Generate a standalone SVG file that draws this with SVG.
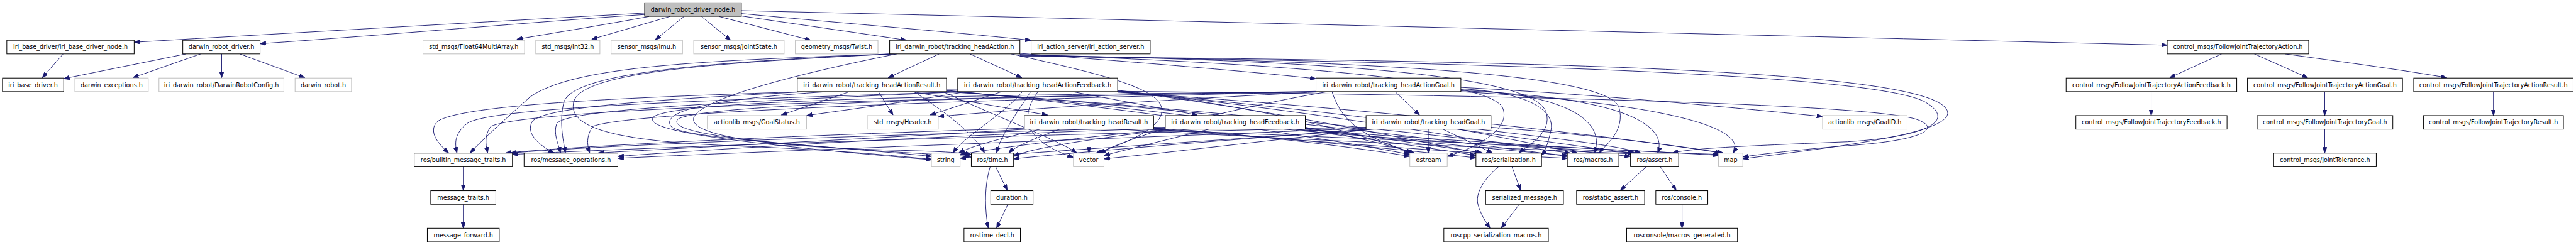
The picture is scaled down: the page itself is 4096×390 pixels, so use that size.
<svg xmlns="http://www.w3.org/2000/svg" width="4096" height="390" viewBox="0 0 4096 390">
<style>
.e path{fill:none;stroke:#191970;stroke-width:1.2;marker-end:url(#a)}
.node rect{fill:#fff;stroke:#000;stroke-width:1.3}
.gr rect{stroke:#bfbfbf}
.rt rect{fill:#bfbfbf;stroke:#000}
.node text{font-family:"DejaVu Sans","Liberation Sans",sans-serif;font-size:12.5px;text-anchor:middle;fill:#000}
</style>
<defs>
<marker id="a" markerUnits="userSpaceOnUse" viewBox="0 0 12 9" markerWidth="12" markerHeight="9" refX="12" refY="4.5" orient="auto"><path d="M0,0L12,4.5L0,9z" fill="#191970" stroke="#191970"/></marker>
</defs>
<rect width="4096" height="390" fill="#fff"/>
<g transform="scale(0.773)">
<g id="connectors" class="e">
<path d="M1326,27 C1000,45 600,68 276,87"/>
<path d="M1326,30 C1100,45 800,72 535,90"/>
<path d="M1335,34 C1250,50 1150,66 1063,81"/>
<path d="M1378,34 L1217,81"/>
<path d="M1407,34 L1348,82"/>
<path d="M1443,34 L1503,83"/>
<path d="M1479,34 L1668,83"/>
<path d="M1525,33 C1640,50 1760,67 1865,83"/>
<path d="M1525,28 C1700,45 1950,65 2121,83"/>
<path d="M1525,22 C2500,45 3500,70 4458,93"/>
<path d="M130,111 L87,160"/>
<path d="M383,111 L131,162"/>
<path d="M413,111 L273,160"/>
<path d="M456,111 L456,160"/>
<path d="M493,111 L627,160"/>
<path d="M1932,111 L1827,160"/>
<path d="M1995,111 L2102,160"/>
<path d="M2098,110 C2300,125 2550,145 2707,162"/>
<path d="M1807,189 L1837,237"/>
<path d="M1747,189 L1607,237"/>
<path d="M1877,189 L2155,237"/>
<path d="M2060,189 L1913,237"/>
<path d="M1985,189 C1900,205 1750,225 1659,238"/>
<path d="M2207,189 L2463,237"/>
<path d="M2720,189 C2400,205 2100,225 1930,240"/>
<path d="M3005,180 C3300,195 3600,225 3749,240"/>
<path d="M2870,189 L2920,237"/>
<path d="M1835,111 C1450,125 1180,135 1090,200 C1040,245 995,285 967,315"/>
<path d="M1838,111 C1450,128 1180,150 1160,210 C1150,250 1158,285 1163,315"/>
<path d="M1840,111 C1450,130 1195,150 1180,210 C1168,262 1260,290 1500,300 C1750,310 1850,322 1916,328"/>
<path d="M1845,111 C1650,150 1450,200 1428,240 C1410,275 1550,300 1800,308 C1900,311 1960,312 1998,318"/>
<path d="M2080,111 C2250,150 2395,180 2390,230 C2385,270 2300,300 2255,315"/>
<path d="M2098,112 C2600,130 3050,160 3090,220 C3110,260 3050,300 2977,322"/>
<path d="M2098,113 C2700,125 3150,150 3180,230 C3195,275 3140,300 3125,315"/>
<path d="M2098,114 C2800,125 3300,150 3330,220 C3345,270 3300,300 3290,315"/>
<path d="M2098,115 C3000,128 3850,150 3960,210 C4020,245 3980,280 3800,292 C3600,300 3480,305 3440,315"/>
<path d="M2098,116 C3100,125 3920,140 4000,220 C4050,270 3800,300 3585,327"/>
<path d="M1650,189 C1300,200 950,215 900,250 C880,270 900,295 923,315"/>
<path d="M1655,189 C1350,205 1120,220 1095,250 C1080,275 1110,300 1140,315"/>
<path d="M1700,189 C1450,205 1360,230 1380,260 C1400,285 1700,300 1916,322"/>
<path d="M1880,189 C1960,240 2010,285 2025,315"/>
<path d="M1940,189 C2050,240 2180,290 2215,315"/>
<path d="M1947,186 C2300,220 2700,280 2900,318"/>
<path d="M1947,187 C2400,225 2850,290 3036,320"/>
<path d="M1947,188 C2500,228 3000,292 3224,322"/>
<path d="M1947,189 C2600,232 3100,298 3354,322"/>
<path d="M1947,185 C2700,190 3800,205 3940,245 C4000,265 3950,290 3800,300 C3700,308 3620,318 3585,323"/>
<path d="M1975,189 C1500,205 1000,220 960,255 C935,275 935,295 940,315"/>
<path d="M1980,189 C1500,210 1160,225 1145,255 C1138,275 1148,295 1153,315"/>
<path d="M2103,189 C2060,240 1990,275 1960,315"/>
<path d="M2120,189 C2090,235 2060,275 2050,315"/>
<path d="M2135,189 C2090,250 2120,295 2208,324"/>
<path d="M2299,186 C2600,220 2800,275 2905,315"/>
<path d="M2299,187 C2650,230 2900,290 3045,315"/>
<path d="M2299,188 C2750,232 3050,295 3230,315"/>
<path d="M2299,189 C2850,236 3200,298 3360,315"/>
<path d="M2299,190 C2900,228 3400,292 3540,315"/>
<path d="M2710,188 C2000,200 1100,220 1010,260 C995,280 1000,300 1003,315"/>
<path d="M2712,189 C2000,205 1300,230 1220,260 C1205,280 1208,300 1213,315"/>
<path d="M2714,189 C2000,195 1400,205 1345,240 C1320,265 1450,290 1916,329"/>
<path d="M2716,189 C2000,200 1450,215 1395,245 C1370,270 1500,295 1998,322"/>
<path d="M2730,189 C2550,220 2350,270 2262,315"/>
<path d="M2740,189 C2760,250 2800,280 2905,315"/>
<path d="M3005,183 C3150,190 3200,230 3190,270 C3184,295 3180,308 3171,320"/>
<path d="M3005,185 C3250,195 3300,260 3280,315"/>
<path d="M3005,187 C3350,200 3430,260 3410,315"/>
<path d="M3005,189 C3400,210 3600,260 3565,315"/>
<path d="M2110,264 C1600,280 1200,300 1040,315"/>
<path d="M2112,266 C1800,285 1400,305 1230,315"/>
<path d="M2140,266 C2060,285 2000,300 1972,315"/>
<path d="M2180,266 C2130,285 2090,300 2075,315"/>
<path d="M2240,266 L2240,315"/>
<path d="M2373,262 C2600,280 2800,305 2900,322"/>
<path d="M2373,264 C2650,285 2900,310 3036,325"/>
<path d="M2373,266 C2700,290 3000,315 3224,326"/>
<path d="M2300,266 C2700,290 3100,305 3360,317"/>
<path d="M2350,266 C2900,290 3300,305 3535,320"/>
<path d="M2400,262 C1900,275 1300,295 1050,315"/>
<path d="M2402,264 C1900,280 1500,305 1271,322"/>
<path d="M2405,266 C2200,285 2050,305 1975,318"/>
<path d="M2410,266 C2250,285 2120,305 2085,322"/>
<path d="M2487,266 L2271,320"/>
<path d="M2685,262 C2780,280 2860,300 2910,315"/>
<path d="M2685,264 C2850,285 2980,305 3050,315"/>
<path d="M2685,266 C2900,290 3100,310 3224,320"/>
<path d="M2640,266 C2900,290 3200,305 3365,315"/>
<path d="M2660,266 C3000,290 3300,310 3537,318"/>
<path d="M2812,262 C2200,275 1400,300 1054,318"/>
<path d="M2814,264 C2300,285 1600,310 1271,326"/>
<path d="M2816,266 C2500,290 2100,315 1975,326"/>
<path d="M2820,266 C2500,290 2200,315 2085,327"/>
<path d="M2825,266 C2600,290 2400,315 2271,327"/>
<path d="M2938,266 L2938,315"/>
<path d="M2968,266 L3070,315"/>
<path d="M3000,266 C3100,285 3200,305 3245,315"/>
<path d="M3040,266 C3200,285 3330,300 3375,315"/>
<path d="M3067,262 C3300,280 3450,300 3545,315"/>
<path d="M953,343 L953,392"/>
<path d="M953,421 L953,470"/>
<path d="M2048,343 L2072,392"/>
<path d="M2037,343 C2025,380 2025,430 2033,470"/>
<path d="M2073,421 L2050,470"/>
<path d="M3110,343 L3128,392"/>
<path d="M3083,343 C3050,370 3035,400 3040,420 C3045,440 3055,455 3065,470"/>
<path d="M3125,421 L3088,470"/>
<path d="M3387,343 L3333,392"/>
<path d="M3415,343 L3448,392"/>
<path d="M3460,421 L3460,470"/>
<path d="M4570,111 L4463,160"/>
<path d="M4637,111 L4747,160"/>
<path d="M4700,111 C4800,125 4950,145 5033,160"/>
<path d="M4425,189 L4425,238"/>
<path d="M4782,189 L4782,238"/>
<path d="M5129,189 L5129,238"/>
<path d="M4782,266 L4782,315"/>
</g>
<g id="n0" class="node rt"><rect x="1326" y="5.7" width="199" height="28"/><text x="1425.5" y="24.2">darwin_robot_driver_node.h</text></g>
<g id="n1" class="node"><rect x="14" y="83" width="262" height="28"/><text x="145" y="101.5">iri_base_driver/iri_base_driver_node.h</text></g>
<g id="n2" class="node"><rect x="5" y="160.7" width="126" height="28"/><text x="68" y="179.2">iri_base_driver.h</text></g>
<g id="n3" class="node"><rect x="376" y="83" width="159" height="28"/><text x="455.5" y="101.5">darwin_robot_driver.h</text></g>
<g id="n4" class="node gr"><rect x="154" y="160.7" width="151" height="28"/><text x="229.5" y="179.2">darwin_exceptions.h</text></g>
<g id="n5" class="node gr"><rect x="327" y="160.7" width="257" height="28"/><text x="455.5" y="179.2">iri_darwin_robot/DarwinRobotConfig.h</text></g>
<g id="n6" class="node gr"><rect x="607" y="160.7" width="116" height="28"/><text x="665" y="179.2">darwin_robot.h</text></g>
<g id="n7" class="node gr"><rect x="870" y="83" width="209" height="28"/><text x="974.5" y="101.5">std_msgs/Float64MultiArray.h</text></g>
<g id="n8" class="node gr"><rect x="1102" y="83" width="132" height="28"/><text x="1168" y="101.5">std_msgs/Int32.h</text></g>
<g id="n9" class="node gr"><rect x="1257" y="83" width="147" height="28"/><text x="1330.5" y="101.5">sensor_msgs/Imu.h</text></g>
<g id="n10" class="node gr"><rect x="1427" y="83" width="186" height="28"/><text x="1520" y="101.5">sensor_msgs/JointState.h</text></g>
<g id="n11" class="node gr"><rect x="1636" y="83" width="170" height="28"/><text x="1721" y="101.5">geometry_msgs/Twist.h</text></g>
<g id="n12" class="node"><rect x="1830" y="83" width="268" height="28"/><text x="1964" y="101.5">iri_darwin_robot/tracking_headAction.h</text></g>
<g id="n41" class="node"><rect x="2121" y="83" width="245" height="28"/><text x="2243.5" y="101.5">iri_action_server/iri_action_server.h</text></g>
<g id="n42" class="node"><rect x="4458" y="83" width="291" height="28"/><text x="4603.5" y="101.5">control_msgs/FollowJointTrajectoryAction.h</text></g>
<g id="n13" class="node"><rect x="1640" y="160.7" width="307" height="28"/><text x="1793.5" y="179.2">iri_darwin_robot/tracking_headActionResult.h</text></g>
<g id="n36" class="node"><rect x="1970" y="160.7" width="329" height="28"/><text x="2134.5" y="179.2">iri_darwin_robot/tracking_headActionFeedback.h</text></g>
<g id="n38" class="node"><rect x="2707" y="160.7" width="298" height="28"/><text x="2856" y="179.2">iri_darwin_robot/tracking_headActionGoal.h</text></g>
<g id="n43" class="node"><rect x="4250" y="160.7" width="351" height="28"/><text x="4425.5" y="179.2">control_msgs/FollowJointTrajectoryActionFeedback.h</text></g>
<g id="n45" class="node"><rect x="4623" y="160.7" width="319" height="28"/><text x="4782.5" y="179.2">control_msgs/FollowJointTrajectoryActionGoal.h</text></g>
<g id="n48" class="node"><rect x="4965" y="160.7" width="328" height="28"/><text x="5129" y="179.2">control_msgs/FollowJointTrajectoryActionResult.h</text></g>
<g id="n14" class="node gr"><rect x="1455" y="238" width="204" height="28"/><text x="1557" y="256.5">actionlib_msgs/GoalStatus.h</text></g>
<g id="n19" class="node gr"><rect x="1784" y="238" width="146" height="28"/><text x="1857" y="256.5">std_msgs/Header.h</text></g>
<g id="n20" class="node"><rect x="2107" y="238" width="266" height="28"/><text x="2240" y="256.5">iri_darwin_robot/tracking_headResult.h</text></g>
<g id="n37" class="node"><rect x="2397" y="238" width="288" height="28"/><text x="2541" y="256.5">iri_darwin_robot/tracking_headFeedback.h</text></g>
<g id="n39" class="node"><rect x="2810" y="238" width="257" height="28"/><text x="2938.5" y="256.5">iri_darwin_robot/tracking_headGoal.h</text></g>
<g id="n40" class="node gr"><rect x="3749" y="238" width="174" height="28"/><text x="3836" y="256.5">actionlib_msgs/GoalID.h</text></g>
<g id="n44" class="node"><rect x="4270" y="238" width="311" height="28"/><text x="4425.5" y="256.5">control_msgs/FollowJointTrajectoryFeedback.h</text></g>
<g id="n46" class="node"><rect x="4643" y="238" width="279" height="28"/><text x="4782.5" y="256.5">control_msgs/FollowJointTrajectoryGoal.h</text></g>
<g id="n49" class="node"><rect x="4985" y="238" width="288" height="28"/><text x="5129" y="256.5">control_msgs/FollowJointTrajectoryResult.h</text></g>
<g id="n15" class="node"><rect x="852" y="315.3" width="202" height="28"/><text x="953" y="333.8">ros/builtin_message_traits.h</text></g>
<g id="n18" class="node"><rect x="1078" y="315.3" width="193" height="28"/><text x="1174.5" y="333.8">ros/message_operations.h</text></g>
<g id="n34" class="node gr"><rect x="1916" y="315.3" width="59" height="28"/><text x="1945.5" y="333.8">string</text></g>
<g id="n31" class="node"><rect x="1998" y="315.3" width="87" height="28"/><text x="2041.5" y="333.8">ros/time.h</text></g>
<g id="n35" class="node gr"><rect x="2208" y="315.3" width="63" height="28"/><text x="2239.5" y="333.8">vector</text></g>
<g id="n22" class="node gr"><rect x="2900" y="315.3" width="77" height="28"/><text x="2938.5" y="333.8">ostream</text></g>
<g id="n28" class="node"><rect x="3036" y="315.3" width="135" height="28"/><text x="3103.5" y="333.8">ros/serialization.h</text></g>
<g id="n27" class="node"><rect x="3224" y="315.3" width="106" height="28"/><text x="3277" y="333.8">ros/macros.h</text></g>
<g id="n23" class="node"><rect x="3354" y="315.3" width="99" height="28"/><text x="3403.5" y="333.8">ros/assert.h</text></g>
<g id="n21" class="node gr"><rect x="3535" y="315.3" width="50" height="28"/><text x="3560" y="333.8">map</text></g>
<g id="n47" class="node"><rect x="4677" y="315.3" width="211" height="28"/><text x="4782.5" y="333.8">control_msgs/JointTolerance.h</text></g>
<g id="n16" class="node"><rect x="886" y="392.7" width="134" height="28"/><text x="953" y="411.2">message_traits.h</text></g>
<g id="n32" class="node"><rect x="2038" y="392.7" width="87" height="28"/><text x="2081.5" y="411.2">duration.h</text></g>
<g id="n29" class="node"><rect x="3056" y="392.7" width="160" height="28"/><text x="3136" y="411.2">serialized_message.h</text></g>
<g id="n24" class="node"><rect x="3243" y="392.7" width="140" height="28"/><text x="3313" y="411.2">ros/static_assert.h</text></g>
<g id="n25" class="node"><rect x="3406" y="392.7" width="107" height="28"/><text x="3459.5" y="411.2">ros/console.h</text></g>
<g id="n17" class="node"><rect x="879" y="470" width="148" height="28"/><text x="953" y="488.5">message_forward.h</text></g>
<g id="n33" class="node"><rect x="1983" y="470" width="116" height="28"/><text x="2041" y="488.5">rostime_decl.h</text></g>
<g id="n30" class="node"><rect x="2970" y="470" width="215" height="28"/><text x="3077.5" y="488.5">roscpp_serialization_macros.h</text></g>
<g id="n26" class="node"><rect x="3346" y="470" width="228" height="28"/><text x="3460" y="488.5">rosconsole/macros_generated.h</text></g>
</g>
</svg>
